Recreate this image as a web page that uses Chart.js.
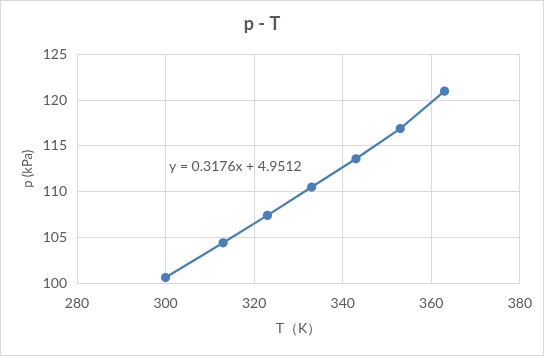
<!DOCTYPE html>
<html>
<head>
<meta charset="utf-8">
<script src="https://cdn.jsdelivr.net/npm/chart.js@4/dist/chart.umd.min.js"></script>
<style>
  body { margin: 0; background: #fff; }
  canvas { display: block; }
</style>
</head>
<body>
<canvas id="chart" width="544" height="356"></canvas>
<script>
// values
const temps = [300, 313, 323, 333, 343, 353, 363];
const pressures = [100.6, 104.4, 107.4, 110.5, 113.6, 116.9, 121.0];
const xTicks = [280, 300, 320, 340, 360, 380];
const yTicks = [100, 105, 110, 115, 120, 125];
const equationText = "y = 0.3176x + 4.9512";
const equationAt = [300.8, 112.8];

const textColor = "#595959";
const gridColor = "#d9d9d9";
const lineColor = "#4a7ebb";
const fontFamily = "Lato, 'Open Sans', sans-serif";

const points = temps.map((t, i) => ({ x: t, y: pressures[i] }));

const extras = {
    id: "extras",
    beforeDraw(chart) {
        const ctx = chart.ctx;
        ctx.save();
        ctx.fillStyle = "#fff";
        ctx.fillRect(0, 0, chart.width, chart.height);
        ctx.strokeStyle = gridColor;
        ctx.lineWidth = 1;
        ctx.strokeRect(0.5, 0.5, chart.width - 1, chart.height - 1);
        ctx.restore();
    },
    afterDatasetsDraw(chart) {
        const ctx = chart.ctx;
        const x = chart.scales.x.getPixelForValue(equationAt[0]);
        const y = chart.scales.y.getPixelForValue(equationAt[1]);
        ctx.save();
        ctx.font = "14px " + fontFamily;
        ctx.fillStyle = textColor;
        ctx.textAlign = "left";
        ctx.textBaseline = "middle";
        ctx.fillText(equationText, x, y);
        ctx.restore();
    }
};

new Chart(document.getElementById("chart"), {
    type: "scatter",
    data: {
        datasets: [{
            label: "p",
            data: points,
            showLine: true,
            borderColor: lineColor,
            backgroundColor: lineColor,
            borderWidth: 2.25,
            pointRadius: 3.5,
            pointHoverRadius: 3.5
        }]
    },
    options: {
        responsive: false,
        animation: false,
        devicePixelRatio: 1,
        layout: { padding: { left: 0, right: 20, top: 0, bottom: 0 } },
        plugins: {
            legend: { display: false },
            tooltip: { enabled: false },
            title: {
                display: true,
                text: "p - T",
                color: textColor,
                font: { family: fontFamily, size: 18, weight: "bold" },
                padding: { top: 13, bottom: 20 }
            }
        },
        scales: {
            x: {
                type: "linear",
                min: xTicks[0],
                max: xTicks[xTicks.length - 1],
                afterBuildTicks: s => { s.ticks = xTicks.map(v => ({ value: v })); },
                afterFit: s => { s.height = 73; },
                grid: { color: gridColor, drawTicks: false },
                border: { color: gridColor },
                ticks: { color: textColor, padding: 12, font: { family: fontFamily, size: 14 } },
                title: {
                    display: true,
                    text: "T（K）",
                    color: textColor,
                    font: { family: fontFamily, size: 14 },
                    padding: { top: 0, bottom: 19 }
                }
            },
            y: {
                type: "linear",
                min: yTicks[0],
                max: yTicks[yTicks.length - 1],
                afterBuildTicks: s => { s.ticks = yTicks.map(v => ({ value: v })); },
                afterFit: s => { s.width = 77; },
                grid: { color: gridColor, drawTicks: false },
                border: { color: gridColor },
                ticks: { color: textColor, padding: 10, font: { family: fontFamily, size: 14 } },
                title: {
                    display: true,
                    text: "p (kPa)",
                    color: textColor,
                    font: { family: fontFamily, size: 13 },
                    padding: { top: 20, bottom: 0 }
                }
            }
        }
    },
    plugins: [extras]
});
</script>
</body>
</html>
